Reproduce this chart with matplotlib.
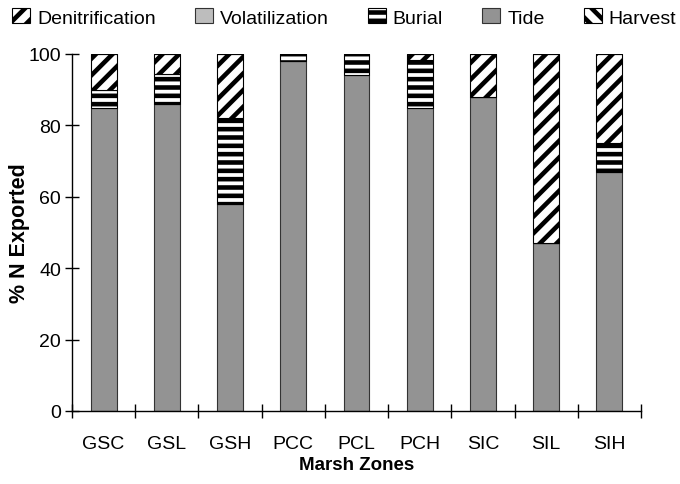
import matplotlib
matplotlib.use("Agg")
import matplotlib.pyplot as plt
import numpy as np

zones = ["GSC", "GSL", "GSH", "PCC", "PCL", "PCH", "SIC", "SIL", "SIH"]
tide = [85, 86, 58, 98, 94, 85, 88, 47, 67]
volatilization = [0, 0, 0, 0, 0, 0, 0, 0, 0]
burial = [5, 8.5, 24, 2, 6, 13.4, 0, 0, 8]
denitrification = [10, 5.5, 18, 0, 0, 1.6, 12, 53, 25]
harvest = [0, 0, 0, 0, 0, 0, 0, 0, 0]

plt.rcParams['font.family'] = ['Liberation Sans', 'DejaVu Sans']
plt.rcParams['hatch.linewidth'] = 3.3

fig = plt.figure(figsize=(6.8, 4.85), dpi=100)
ax = fig.add_axes([72/680, 1-412/485, (641-72)/680, (412-55)/485])

x = np.arange(len(zones))
w = 0.41
bottom = np.zeros(len(zones))
series = [
    ("Tide", tide, dict(color="#939393", edgecolor="#333333", linewidth=0.8)),
    ("Volatilization", volatilization, dict(color="#bdbdbd", edgecolor="#333333", linewidth=0.8)),
    ("Burial", burial, dict(facecolor="white", edgecolor="black", hatch="--", linewidth=0.8)),
    ("Denitrification", denitrification, dict(facecolor="white", edgecolor="black", hatch="//", linewidth=0.8)),
    ("Harvest", harvest, dict(facecolor="white", edgecolor="black", hatch="\\\\", linewidth=0.8)),
]
handles = {}
for name, vals, style in series:
    vals = np.array(vals, dtype=float)
    b = ax.bar(x, vals, w, bottom=bottom, label=name, zorder=2, **style)
    handles[name] = b
    bottom += vals

ax.set_xlim(-0.5, len(zones) - 0.5)
ax.set_ylim(0, 100)
ax.set_yticks([0, 20, 40, 60, 80, 100])
ax.set_xticks(x)
ax.set_xticklabels(zones)
ax.set_xticks(np.arange(-0.5, len(zones), 1.0), minor=True)
ax.tick_params(axis='x', which='major', length=0, pad=17, labelsize=14)
ax.tick_params(axis='x', which='minor', direction='inout', length=10, width=1)
ax.tick_params(axis='y', direction='inout', length=10, width=1, labelsize=14, pad=3)
for s in ['top', 'right']:
    ax.spines[s].set_visible(False)
for s in ['left', 'bottom']:
    ax.spines[s].set_linewidth(1)

ax.set_ylabel("% N Exported", fontsize=15.5, fontweight='bold')
ax.yaxis.set_label_coords(-42/569, 0.5)
ax.set_xlabel("Marsh Zones", fontsize=13.5, fontweight='bold', labelpad=3)

order = ["Denitrification", "Volatilization", "Burial", "Tide", "Harvest"]
fig.legend([handles[n] for n in order], order, loc='center', bbox_to_anchor=(0.506, 0.962),
           ncol=5, frameon=False, fontsize=14, handlelength=0.95, handleheight=0.8,
           handletextpad=0.35, columnspacing=2.0, borderaxespad=0)

fig.savefig("out.png", dpi=100)
